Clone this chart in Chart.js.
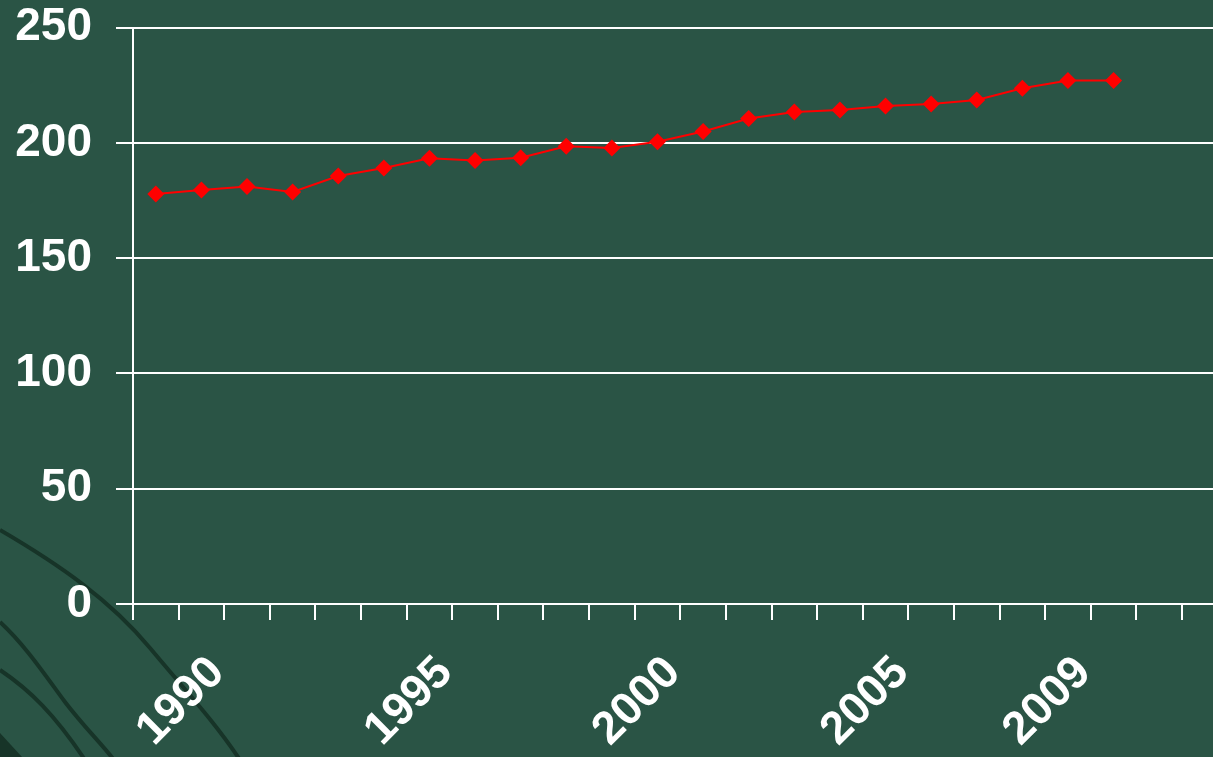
<!DOCTYPE html>
<html>
<head>
<meta charset="utf-8">
<script src="https://cdn.jsdelivr.net/npm/chart.js@4/dist/chart.umd.min.js"></script>
<style>
  html, body { margin: 0; padding: 0; background: #2a5445; overflow: hidden; width: 1213px; height: 757px; }
  .chart { position: absolute; left: 0; top: -24px; width: 1270px; height: 781px; }
</style>
</head>
<body>
<div class="chart">
  <canvas id="trendChart" width="1270" height="781"></canvas>
</div>
<script>
// categories (the last two years are empty slots on the axis)
const years = ['1989', '1990', '1991', '1992', '1993', '1994', '1995', '1996', '1997', '1998', '1999', '2000',
  '2001', '2002', '2003', '2004', '2005', '2006', '2007', '2008', '2009', '2010', '2011', '2012'];
const shownYears = ['1990', '1995', '2000', '2005', '2009'];
const values = [177.8, 179.6, 181.1, 178.7, 185.6, 189.1, 193.3, 192.4, 193.6, 198.5, 197.8, 200.5,
  204.9, 210.6, 213.4, 214.3, 216.0, 216.9, 218.6, 223.7, 227.1, 227.1, null, null];
const yTicks = [0, 50, 100, 150, 200, 250];

const bgColor = '#2a5445';
const shiftY = 24; // canvas sits 24px above the page top

// slide background with the dark swooshes in the lower left
const backdrop = {
  id: 'backdrop',
  beforeDraw(chart) {
    const ctx = chart.ctx;
    ctx.save();
    ctx.fillStyle = bgColor;
    ctx.fillRect(0, 0, chart.width, chart.height);
    ctx.translate(0, shiftY);
    ctx.strokeStyle = '#173428';
    ctx.lineWidth = 4;
    ctx.beginPath();
    ctx.moveTo(0, 530);
    ctx.bezierCurveTo(60, 565, 110, 600, 150, 648);
    ctx.bezierCurveTo(185, 690, 215, 722, 240, 760);
    ctx.stroke();
    ctx.beginPath();
    ctx.moveTo(0, 622);
    ctx.bezierCurveTo(25, 645, 45, 675, 65, 702);
    ctx.bezierCurveTo(85, 728, 100, 742, 114, 760);
    ctx.stroke();
    ctx.beginPath();
    ctx.moveTo(0, 670);
    ctx.bezierCurveTo(30, 690, 55, 715, 85, 760);
    ctx.stroke();
    ctx.fillStyle = '#173428';
    ctx.beginPath();
    ctx.moveTo(0, 733);
    ctx.lineTo(22, 757);
    ctx.lineTo(0, 757);
    ctx.closePath();
    ctx.fill();
    ctx.restore();
  }
};

const canvas = document.getElementById('trendChart');
new Chart(canvas, {
  type: 'line',
  plugins: [backdrop],
  data: {
    labels: years,
    datasets: [
      {
        label: 'trend',
        data: values,
        borderColor: '#ff0000',
        backgroundColor: '#ff0000',
        borderWidth: 2,
        pointStyle: 'rectRot',
        pointRadius: 8.5,
        pointBorderWidth: 0,
        tension: 0,
      },
    ],
  },
  options: {
    responsive: false,
    animation: false,
    layout: { padding: { top: 3, right: 0, left: 0, bottom: 0 } },
    plugins: {
      legend: { display: false },
      tooltip: { enabled: false },
    },
    scales: {
      x: {
        offset: true,
        afterFit: (scale) => { scale.height = 153; },
        grid: {
          offset: true,
          drawOnChartArea: false,
          drawTicks: true,
          tickLength: 16,
          color: '#ffffff',
          lineWidth: 2,
        },
        border: { display: true, color: '#ffffff', width: 2 },
        ticks: {
          autoSkip: false,
          minRotation: 45,
          maxRotation: 45,
          padding: 26,
          labelOffset: 16,
          color: '#ffffff',
          font: { family: 'Liberation Sans, Arial, sans-serif', size: 46, weight: 'bold' },
          callback: function (value) {
            const y = this.getLabelForValue(value);
            return shownYears.includes(y) ? y : '';
          },
        },
      },
      y: {
        min: 0,
        max: 250,
        afterFit: (scale) => { scale.width = 133; },
        afterBuildTicks: (scale) => { scale.ticks = yTicks.map((v) => ({ value: v })); },
        grid: {
          color: '#ffffff',
          lineWidth: 2,
          drawTicks: true,
          tickLength: 17,
        },
        border: { display: true, color: '#ffffff', width: 2 },
        ticks: {
          padding: 24,
          color: '#ffffff',
          font: { family: 'Liberation Sans, Arial, sans-serif', size: 46, weight: 'bold' },
        },
      },
    },
  },
});
</script>
</body>
</html>
